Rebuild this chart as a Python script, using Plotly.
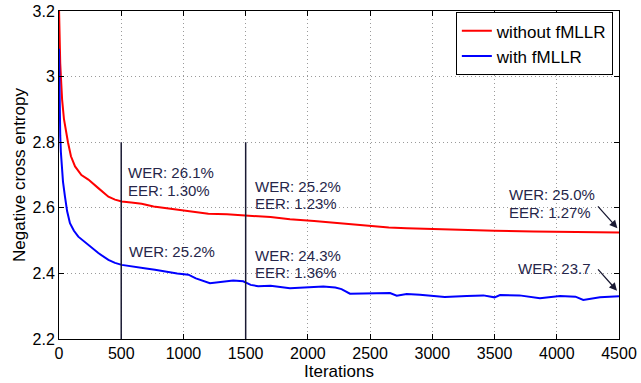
import plotly.graph_objects as go

# ---- data ----
red_iters = [0, 4, 10, 18, 25, 40, 60, 72, 96, 129, 180, 236, 316, 397, 450, 504, 580, 664, 760, 855,
             950, 1040, 1200, 1350, 1481, 1600, 1700, 1856, 2050, 2258, 2400, 2526, 2650, 2794, 3000,
             3276, 3500, 3812, 4100, 4300, 4500]
red_vals = [3.21, 3.12, 3.04, 2.98, 2.93, 2.87, 2.82, 2.80, 2.757, 2.726, 2.70, 2.686, 2.660, 2.634, 2.625,
            2.619, 2.616, 2.612, 2.604, 2.599, 2.594, 2.589, 2.582, 2.580, 2.576, 2.574, 2.572, 2.565,
            2.560, 2.553, 2.548, 2.543, 2.540, 2.538, 2.535, 2.531, 2.530, 2.528, 2.527, 2.526, 2.525]

blue_iters = [0, 3, 6, 10, 15, 22, 32, 48, 65, 88, 120, 155, 195, 236, 316, 397, 450, 504, 611, 700,
              771, 852, 950, 1040, 1100, 1213, 1300, 1400, 1480, 1540, 1600, 1700, 1856, 2000, 2124,
              2220, 2270, 2338, 2500, 2660, 2714, 2794, 2900, 3008, 3100, 3276, 3410, 3500, 3544, 3700,
              3865, 4026, 4150, 4213, 4347, 4500]
blue_vals = [3.085, 2.98, 2.88, 2.82, 2.77, 2.72, 2.68, 2.634, 2.59, 2.553, 2.53, 2.512, 2.50, 2.487,
             2.462, 2.441, 2.432, 2.426, 2.421, 2.415, 2.411, 2.405, 2.400, 2.396, 2.385, 2.370, 2.374,
             2.378, 2.376, 2.365, 2.361, 2.362, 2.355, 2.358, 2.360, 2.357, 2.352, 2.338, 2.339, 2.340,
             2.332, 2.337, 2.335, 2.331, 2.328, 2.331, 2.333, 2.327, 2.334, 2.333, 2.324, 2.331, 2.329,
             2.319, 2.327, 2.330]

series_names = ["without fMLLR", "with fMLLR"]
series_colors = ["#ff0000", "#0000ff"]

marker_iters = [500, 1500]
marker_ymin = 2.2
marker_ymax = 2.8

x_ticks = [0, 500, 1000, 1500, 2000, 2500, 3000, 3500, 4000, 4500]
x_ticklabels = ["0", "500", "1000", "1500", "2000", "2500", "3000", "3500", "4000", "4500"]
y_ticks = [2.2, 2.4, 2.6, 2.8, 3.0, 3.2]
y_ticklabels = ["2.2", "2.4", "2.6", "2.8", "3", "3.2"]

# text labels: (x, y, text)
labels = [
    (538, 2.708, "WER: 26.1%"), (538, 2.653, "EER: 1.30%"),
    (1562, 2.665, "WER: 25.2%"), (1562, 2.612, "EER: 1.23%"),
    (544, 2.467, "WER: 25.2%"),
    (1562, 2.456, "WER: 24.3%"), (1562, 2.402, "EER: 1.36%"),
    (3603, 2.640, "WER: 25.0%"), (3603, 2.586, "EER: 1.27%"),
    (3673, 2.414, "WER: 23.7"),
]
# arrows: (tail_x, tail_y, head_x, head_y)
arrows = [
    (4320, 2.609, 4487, 2.538),
    (4321, 2.417, 4484, 2.347),
]

FONT = "Liberation Sans, Arial, Helvetica, sans-serif"
TXT = "#26264a"

fig = go.Figure()
fig.add_trace(go.Scatter(x=red_iters, y=red_vals, mode="lines", name=series_names[0],
                         line=dict(color=series_colors[0], width=2)))
fig.add_trace(go.Scatter(x=blue_iters, y=blue_vals, mode="lines", name=series_names[1],
                         line=dict(color=series_colors[1], width=2)))

for mx in marker_iters:
    fig.add_shape(type="line", xref="x", yref="y", x0=mx, x1=mx, y0=marker_ymin, y1=marker_ymax,
                  line=dict(color="#1a1a33", width=1.5))

for (lx, ly, t) in labels:
    fig.add_annotation(x=lx, y=ly, xref="x", yref="y", text=t, showarrow=False,
                       xanchor="left", yanchor="middle", font=dict(family=FONT, size=15, color=TXT))

for (tx, ty, hx, hy) in arrows:
    fig.add_annotation(x=hx, y=hy, ax=tx, ay=ty, xref="x", yref="y", axref="x", ayref="y",
                       text="", showarrow=True, arrowhead=2, arrowsize=1.2, arrowwidth=1.3,
                       arrowcolor="#1a1a33", standoff=0)

axis_common = dict(showline=True, linecolor="black", linewidth=1, mirror="ticks",
                   ticks="inside", ticklen=5, tickcolor="black", automargin=False,
                   showgrid=True, gridcolor="#9a9a9a", griddash="1px,3px", gridwidth=1,
                   zeroline=False, tickfont=dict(family=FONT, size=16, color="black"))

fig.update_xaxes(range=[0, 4500], tickvals=x_ticks, ticktext=x_ticklabels,
                 title=dict(text="Iterations", font=dict(family=FONT, size=17, color="black"), standoff=0),
                 **axis_common)
fig.update_yaxes(range=[2.2, 3.2], tickvals=y_ticks, ticktext=y_ticklabels,
                 title=dict(text="Negative cross entropy", font=dict(family=FONT, size=17, color="black"), standoff=2),
                 **axis_common)

fig.update_layout(
    width=641, height=383,
    margin=dict(l=59, r=22, t=11, b=44, autoexpand=False),
    paper_bgcolor="white", plot_bgcolor="white",
    font=dict(family=FONT, color="black"),
    legend=dict(x=0.989, y=0.996, xanchor="right", yanchor="top",
                bgcolor="white", bordercolor="black", borderwidth=1,
                font=dict(family=FONT, size=17, color="black"),
                tracegroupgap=0, itemwidth=30),
    showlegend=True,
)

fig.write_html("out.html", config={"displayModeBar": False},
               post_script="document.body.style.margin='0';document.body.style.overflow='hidden';")
